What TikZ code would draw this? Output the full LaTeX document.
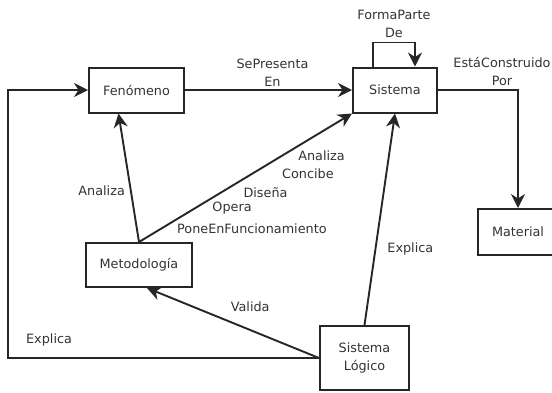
\documentclass[tikz,border=0pt]{standalone}
\usepackage{fontspec}
\setmainfont{DejaVu Sans}
\usetikzlibrary{arrows.meta}

\tikzset{
  box/.style={draw=black!85, line width=2pt, minimum height=45pt, inner sep=2pt,
    text=black!80, align=center},
  lbl/.style={text=black!80, align=center, inner sep=1pt},
  rel/.style={draw=black!85, line width=1.9pt, ->},
}

\begin{document}
\begin{tikzpicture}[x=1pt, y=-1pt,
    >={Stealth[length=14pt,width=14pt,inset=4.5pt]},
    font=\fontsize{12.8}{18}\selectfont]
    \useasboundingbox (0,0) rectangle (552,392);

    \node[box, minimum width=95pt] (fen) at (136.5,90) {Fenómeno};
    \node[box, minimum width=84pt] (sis) at (395,90) {Sistema};
    \node[box, minimum width=80pt, minimum height=46pt] (mat) at (518,232) {Material};
    \node[box, minimum width=106pt, minimum height=44pt] (met) at (139,265) {Metodología};
    \node[box, minimum width=89pt, minimum height=64pt] (slog) at (364.5,358) {Sistema\\Lógico};

    \draw[rel] (fen) -- node[lbl, above=2pt, xshift=4pt] {SePresenta\\En} (sis);
    \draw[rel] ([xshift=-22pt]sis.north) -- ++(0,-24)
      -| node[lbl, pos=0.25, above=3pt] {FormaParte\\De} ([xshift=20pt]sis.north);
    \draw[rel] (sis.east) -| node[lbl, pos=0.4, above=2pt] {EstáConstruido\\Por} (mat.north);
    \draw[rel] (met.north) -- node[lbl, pos=0.4, left=4pt] {Analiza} ([xshift=-18pt]fen.south);
    \draw[rel] (met.north) -- (sis.south west)
      node[lbl, pos=0.857, yshift=-24pt] {Analiza}
      node[lbl, pos=0.793, yshift=-34pt] {Concibe}
      node[lbl, pos=0.594, yshift=-27pt] {Diseña}
      node[lbl, pos=0.437, yshift=-22pt] {Opera}
      node[lbl, pos=0.53, yshift=-55pt] {PoneEnFuncionamiento};
    \draw[rel] (slog.north) -- node[lbl, pos=0.36, right=10pt] {Explica} (sis.south);
    \draw[rel] (slog.west) -- node[lbl, pos=0.4, yshift=23pt] {Valida} ([xshift=8pt]met.south);
    \draw[rel] (slog.west) -| node[lbl, pos=0.434, yshift=18pt] {Explica}
      ([xshift=-80pt]fen.west) -- (fen.west);
\end{tikzpicture}
\end{document}
